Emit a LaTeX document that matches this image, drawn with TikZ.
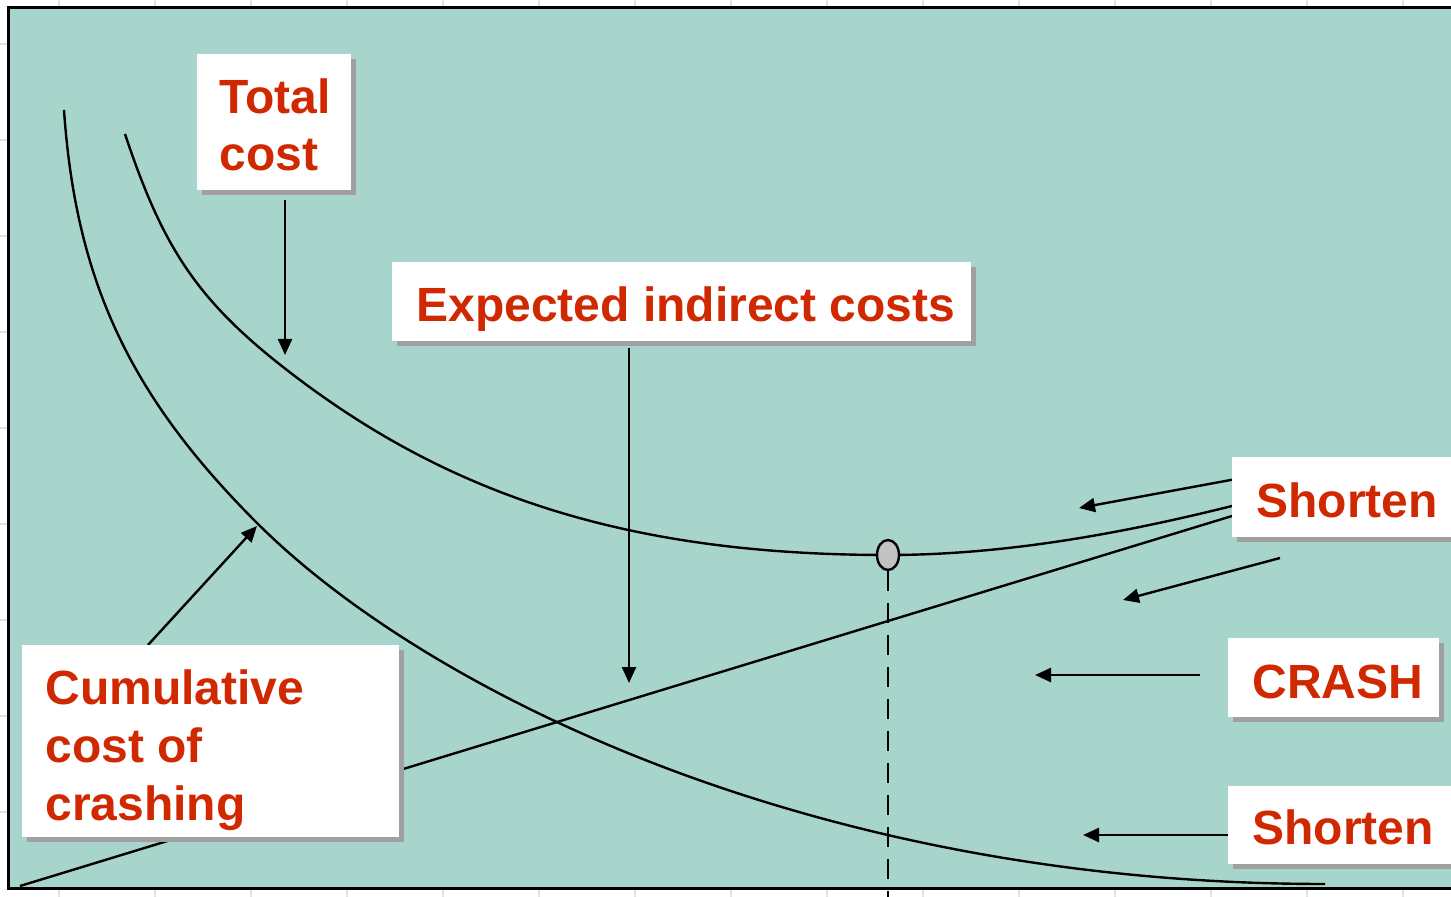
\documentclass[tikz,border=0pt]{standalone}
\usepackage{fontspec}
\setmainfont{Liberation Sans}
\usetikzlibrary{arrows.meta,shadows,shapes.geometric}
\definecolor{panel}{RGB}{168,213,203}
\definecolor{txtred}{RGB}{208,40,0}
\definecolor{shadowgray}{RGB}{160,160,160}
\definecolor{gridgray}{RGB}{224,224,224}
\definecolor{markgray}{RGB}{194,194,194}
\begin{document}
\begin{tikzpicture}[x=0.5pt,y=-0.5pt,
  lbl/.style={fill=white, anchor=north west, inner ysep=0pt, text=txtred,
    font=\bfseries\fontsize{24}{29}\selectfont,
    drop shadow={shadow xshift=2.25pt, shadow yshift=-2.25pt, fill=shadowgray, opacity=1}},
  curve/.style={line width=1.2pt, black},
  ptr/.style={line width=1.2pt, -{Triangle[length=8pt,width=7pt]}},
  gridline/.style={gridgray, line width=1pt},
]
\useasboundingbox (0,0) rectangle (1451,897);
\clip (0,0) rectangle (1451,897);
% faint grid behind the panel
\foreach \k in {0,...,14} \draw[gridline] (59+96*\k,0) -- (59+96*\k,897);
\foreach \k in {0,...,8} \draw[gridline] (0,44+96*\k) -- (1451,44+96*\k);
% panel
\draw[fill=panel, line width=1.5pt] (8,8) rectangle (1480,888);
% curves
\draw[curve] (64,110) .. controls (76,285) and (133,399) .. (257,523)
  .. controls (420,686) and (805,884) .. (1325,884);
\draw[curve] (125,134) .. controls (164.5,252.6) and (200,305) .. (300,380)
  .. controls (460,500) and (638,555) .. (888,555)
  .. controls (1003,555) and (1120,534) .. (1232,506);
\coordinate (lineA) at (20,886);
\coordinate (lineB) at (1232,516);
\draw[curve] (lineA) -- (lineB);
% optimum marker
\node[ellipse, draw, fill=markgray, minimum width=11pt, minimum height=15pt, inner sep=0pt, line width=1.2pt] (opt) at (888,555) {};
\coordinate (axisend) at (888,897);
\draw[line width=1.2pt, dash pattern=on 10pt off 6pt] (opt.south) -- (axisend);
% arrow end points
\coordinate (tcS) at (285,200);   \coordinate (tcT) at (285,355);
\coordinate (eiS) at (629,348);   \coordinate (eiT) at (629,683);
\coordinate (ccS) at (148,645);   \coordinate (ccT) at (257,526);
\coordinate (s1aS) at (1236,479); \coordinate (s1aT) at (1079,508);
\coordinate (s1bS) at (1280,558); \coordinate (s1bT) at (1123,600);
\coordinate (crS) at (1200,675);  \coordinate (crT) at (1035,675);
\coordinate (s2S) at (1231,835);  \coordinate (s2T) at (1083,835);
\draw[ptr] (tcS) -- (tcT);
\draw[ptr] (eiS) -- (eiT);
\draw[ptr] (ccS) -- (ccT);
\draw[ptr] (s1aS) -- (s1aT);
\draw[ptr] (s1bS) -- (s1bT);
\draw[ptr] (crS) -- (crT);
\draw[ptr] (s2S) -- (s2T);
% label boxes
\node[lbl, inner xsep=11pt, text height=29.5pt, text depth=38.5pt] (total) at (197,54)
  {\makebox[55pt][l]{\vtop{\baselineskip=28.5pt\hbox{Total}\hbox{cost}}}};
\node[lbl, inner xsep=12pt, text height=29.5pt, text depth=10pt] (expected) at (392,262)
  {\makebox[265.5pt][l]{Expected indirect costs}};
\node[lbl, inner xsep=11.5pt, text height=29.5pt, text depth=66.5pt] (cumul) at (22,645)
  {\makebox[165.5pt][l]{\vtop{\baselineskip=29pt\hbox{Cumulative}\hbox{cost of}\hbox{crashing}}}};
\node[lbl, inner xsep=12pt, text height=30pt, text depth=10pt] (short1) at (1232,457)
  {\makebox[120pt][l]{Shorten}};
\node[lbl, inner xsep=12pt, text height=30pt, text depth=9.5pt] (crash) at (1228,638)
  {\makebox[81.5pt][l]{CRASH}};
\node[lbl, inner xsep=12pt, text height=29pt, text depth=10pt] (short2) at (1228,786)
  {\makebox[120pt][l]{Shorten}};
\end{tikzpicture}
\end{document}
